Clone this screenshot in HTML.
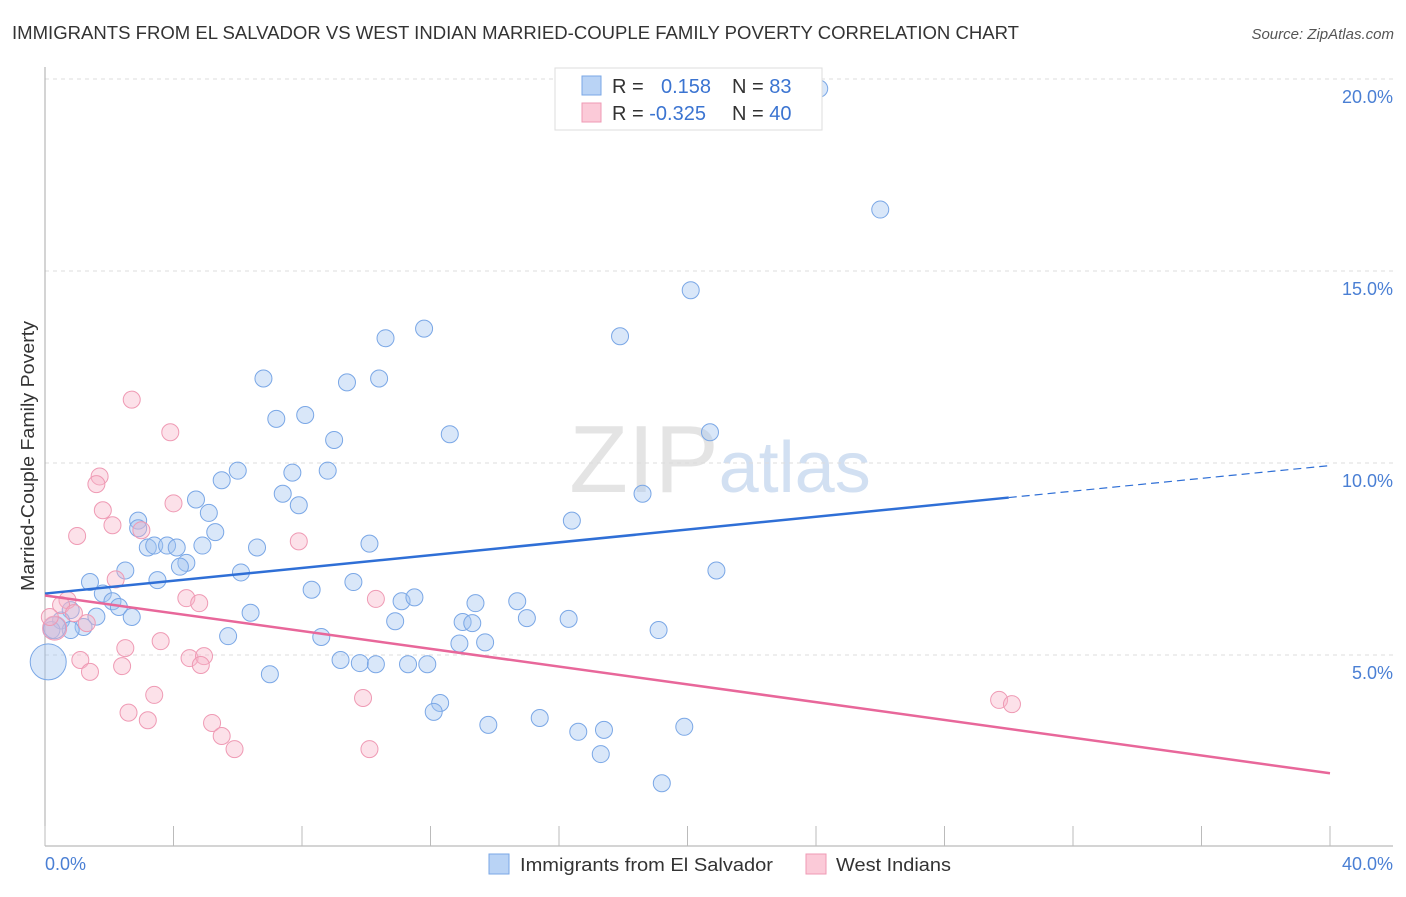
<!DOCTYPE html>
<html><head><meta charset="utf-8">
<style>
body{margin:0;background:#fff;font-family:"Liberation Sans",sans-serif;}
svg text{font-family:"Liberation Sans",sans-serif;}
</style></head>
<body>
<svg id="chart" width="1406" height="892" xmlns="http://www.w3.org/2000/svg">
<text x="12" y="39" font-size="18" fill="#333" textLength="1007" lengthAdjust="spacingAndGlyphs">IMMIGRANTS FROM EL SALVADOR VS WEST INDIAN MARRIED-COUPLE FAMILY POVERTY CORRELATION CHART</text>
<text x="1394" y="39" font-size="15" fill="#555" font-style="italic" text-anchor="end">Source: ZipAtlas.com</text>
<text x="720" y="492" font-size="96" fill="#e4e4e4" text-anchor="middle" font-family="Liberation Serif">ZIP<tspan fill="#d2e0f2" font-family="Liberation Sans" font-size="72">atlas</tspan></text>
<g id="grid"></g>
<g id="axes"></g>
<g id="pts"></g>
<g id="lines"></g>
<text transform="translate(34,456) rotate(-90)" font-size="18" fill="#333" text-anchor="middle" textLength="270" lengthAdjust="spacingAndGlyphs">Married-Couple Family Poverty</text>
<text x="45" y="870" font-size="18" fill="#4a7fd4">0.0%</text>
<text x="1393" y="870" font-size="18" fill="#4a7fd4" text-anchor="end">40.0%</text>
<g>
<rect x="489" y="854" width="20" height="20" fill="#b9d3f5" stroke="#7aa7e6"/>
<text x="520" y="871" font-size="18" fill="#333" textLength="253" lengthAdjust="spacingAndGlyphs">Immigrants from El Salvador</text>
<rect x="806" y="854" width="20" height="20" fill="#fbcad8" stroke="#ef9ab4"/>
<text x="836" y="871" font-size="18" fill="#333" textLength="115" lengthAdjust="spacingAndGlyphs">West Indians</text>
</g>
<g>
<rect x="555" y="68" width="267" height="62" fill="#fff" stroke="#ddd"/>
<rect x="582" y="76" width="19" height="19" fill="#b9d3f5" stroke="#7aa7e6"/>
<text x="612" y="93" font-size="20" fill="#333">R = <tspan x="661" fill="#3b74d1">0.158</tspan><tspan x="732" fill="#333">N = </tspan><tspan fill="#3b74d1">83</tspan></text>
<rect x="582" y="103" width="19" height="19" fill="#fbcad8" stroke="#ef9ab4"/>
<text x="612" y="120" font-size="20" fill="#333">R = <tspan fill="#3b74d1">-0.325</tspan><tspan x="732" fill="#333">N = </tspan><tspan fill="#3b74d1">40</tspan></text>
</g>
</svg>
<script>
const yTicks=[5,10,15,20];
const xTicks=[0,4,8,12,16,20,24,28,32,36,40];
const blueX=[24.1,26.0,20.1,17.9,11.8,10.6,6.8,9.4,10.4,7.2,8.1,9.0,12.6,20.7,6.0,7.7,8.8,5.5,4.7,7.4,7.9,18.6,5.1,2.9,16.4,5.3,2.9,3.2,3.4,3.8,4.1,4.9,6.6,10.1,4.4,4.2,2.5,1.4,3.5,6.1,9.6,8.3,20.9,1.8,2.1,2.3,2.7,1.6,0.8,0.5,1.2,0.8,0.2,6.4,10.9,11.1,11.5,13.4,14.7,15.0,16.3,13.0,13.3,19.1,8.6,5.7,12.9,13.7,9.2,9.8,10.3,11.3,11.9,7.0,12.3,12.1,15.4,13.8,19.9,16.6,17.4,17.3,19.2,0.1,0.3];
const blueY=[19.75,16.6,14.5,13.3,13.5,13.25,12.2,12.1,12.2,11.15,11.25,10.6,10.75,10.8,9.8,9.75,9.8,9.55,9.05,9.2,8.9,9.2,8.7,8.5,8.5,8.2,8.3,7.8,7.85,7.85,7.8,7.85,7.8,7.9,7.4,7.3,7.2,6.9,6.95,7.15,6.9,6.7,7.2,6.6,6.4,6.25,5.99,6.0,6.17,5.9,5.73,5.65,5.65,6.1,5.88,6.4,6.5,6.35,6.4,5.96,5.94,5.86,5.83,5.65,5.47,5.49,5.3,5.33,4.87,4.79,4.76,4.76,4.76,4.5,3.75,3.52,3.36,3.18,3.13,3.0,3.05,2.42,1.66,4.82,5.71];
const blueR=[];blueX.forEach((v,i)=>blueR.push(i===83?18:(i===84?11:8.5)));
const pinkX=[2.7,3.9,1.7,1.6,4.0,1.8,2.1,3.0,1.0,7.9,2.2,4.4,4.8,10.3,0.7,0.5,0.9,1.3,0.3,2.5,3.6,1.1,4.5,4.95,4.85,2.4,1.4,3.4,9.9,2.6,3.2,5.2,5.5,5.9,10.1,29.7,30.1,0.15];
const pinkY=[11.65,10.8,9.65,9.45,8.95,8.77,8.38,8.25,8.1,7.96,6.97,6.48,6.35,6.46,6.43,6.3,6.09,5.83,5.7,5.18,5.36,4.87,4.92,4.97,4.74,4.71,4.56,3.96,3.88,3.5,3.3,3.23,2.89,2.55,2.55,3.83,3.72,5.99];
const pinkR=[];pinkX.forEach((v,i)=>pinkR.push(i===18?12:8.5));
const blueTrend=[6.6,9.1,30.0,10.0];
const pinkTrend=[6.55,0,1.92,40];
const NS='http://www.w3.org/2000/svg';
const X=v=>45+v*32.125, Y=v=>847-v*38.4;
function mk(tag,attrs,parent){const e=document.createElementNS(NS,tag);for(const k in attrs)e.setAttribute(k,attrs[k]);parent.appendChild(e);return e;}
const grid=document.getElementById('grid'),axes=document.getElementById('axes'),pts=document.getElementById('pts'),lines=document.getElementById('lines');
yTicks.forEach(t=>{
 const l=mk('line',{x1:45,x2:1393,y1:Y(t),y2:Y(t),stroke:'#ddd','stroke-dasharray':'4,4'},grid);
 
 
 const tx=mk('text',{x:1393,y:Y(t)+24,'font-size':18,fill:'#4a7fd4','text-anchor':'end'},grid);
 tx.textContent=t.toFixed(1)+'%';
 
 
});
const ya=mk('line',{x1:45,x2:45,y1:67,y2:846,stroke:'#aaa'},axes);


const xa=mk('line',{x1:45,x2:1393,y1:846,y2:846,stroke:'#aaa'},axes);


xTicks.forEach(t=>{
 const l=mk('line',{x1:X(t),x2:X(t),y1:826,y2:846,stroke:'#bbb'},axes);
 
 
});
blueX.forEach((v,i)=>{
 const c=mk('circle',{cx:X(v),cy:Y(blueY[i]),r:blueR[i],fill:'rgba(160,195,240,0.4)',stroke:'#7aa7e6','stroke-width':1},pts);
 
 
});
pinkX.forEach((v,i)=>{
 const c=mk('circle',{cx:X(v),cy:Y(pinkY[i]),r:pinkR[i],fill:'rgba(248,180,200,0.4)',stroke:'#ef9ab4','stroke-width':1},pts);
 
 
});
const bSlope=(blueTrend[1]-blueTrend[0])/blueTrend[2];
const b1=mk('line',{x1:X(0),y1:Y(blueTrend[0]),x2:X(blueTrend[2]),y2:Y(blueTrend[1]),stroke:'#2f6fd6','stroke-width':2.5},lines);


const b2=mk('line',{x1:X(blueTrend[2]),y1:Y(blueTrend[1]),x2:X(40),y2:Y(blueTrend[0]+bSlope*40),stroke:'#2f6fd6','stroke-width':1.2,'stroke-dasharray':'8,5'},lines);


const p1=mk('line',{x1:X(pinkTrend[1]),y1:Y(pinkTrend[0]),x2:X(pinkTrend[3]),y2:Y(pinkTrend[2]),stroke:'#e8679a','stroke-width':2.5},lines);


</script>
</body></html>
